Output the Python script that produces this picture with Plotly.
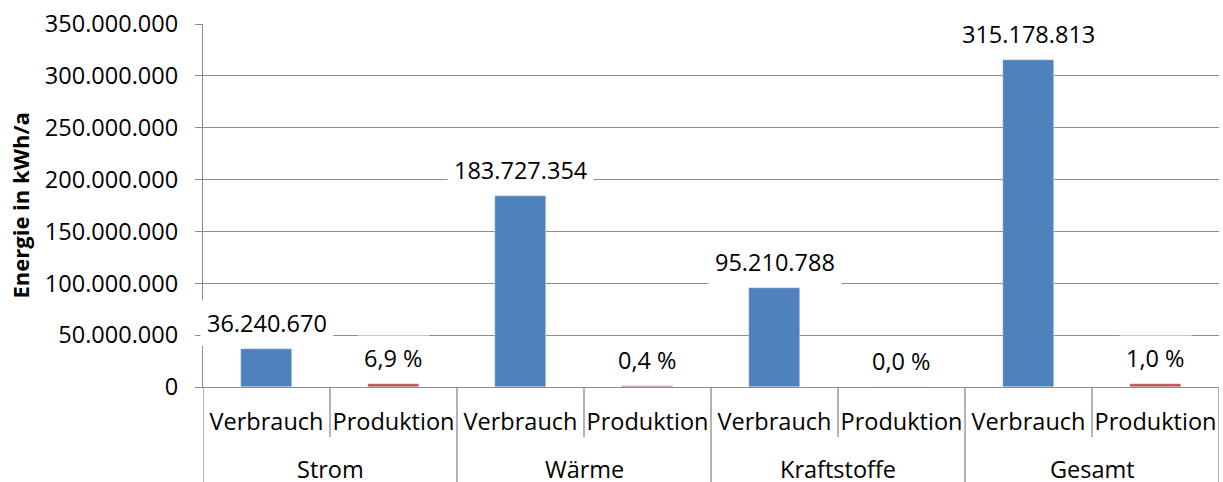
import plotly.graph_objects as go

groups = ["Strom", "Wärme", "Kraftstoffe", "Gesamt"]
inner = ["Verbrauch", "Produktion"]
verbrauch = [36240670, 183727354, 95210788, 315178813]
produktion = [2500000, 730000, 0, 3150000]
prod_labels = ["6,9 %", "0,4 %", "0,0 %", "1,0 %"]
y_ticks = [0, 50e6, 100e6, 150e6, 200e6, 250e6, 300e6, 350e6]

FONT = "Open Sans"
FS = 23.5
BLUE = "#4F81BD"
RED = "#C0504D"
GRID = "#8C8C8C"

xv = [2 * i for i in range(len(groups))]
xp = [2 * i + 1 for i in range(len(groups))]

fig = go.Figure()
fig.add_bar(x=xv, y=verbrauch, marker_color=BLUE, width=0.4, showlegend=False)
fig.add_bar(x=xp, y=produktion, marker_color=RED, width=0.4, showlegend=False)

def fmt(v):
    return f"{v:,}".replace(",", ".")

for x, v in zip(xv, verbrauch):
    fig.add_annotation(x=x, y=v, text=fmt(v), showarrow=False, yshift=26,
                       bgcolor="white", borderpad=6, font=dict(family=FONT, size=FS, color="black"))
for x, v, t in zip(xp, produktion, prod_labels):
    fig.add_annotation(x=x, y=v, text=t, showarrow=False, yshift=26,
                       bgcolor="white", borderpad=6, font=dict(family=FONT, size=FS, color="black"))

plot_w = 1223 - 203 - 4
plot_h = 482 - 24 - 95
# group labels
for i, g in enumerate(groups):
    fig.add_annotation(x=2 * i + 0.5, y=-(469 - 387) / plot_h, yref="paper", yanchor="middle",
                       text=g, showarrow=False, font=dict(family=FONT, size=FS, color="black"))

# y-axis title
fig.add_annotation(x=-(203 - 19) / plot_w, y=0.5, xref="paper", yref="paper",
                   xanchor="center", yanchor="middle", textangle=-90, showarrow=False,
                   text="<b>Energie in kWh/a</b>", font=dict(family=FONT, size=22, color="black"))

# separators
n = 2 * len(groups)
for k in range(n + 1):
    xb = k - 0.5
    if k % 2 == 0:
        y1 = -0.4
    else:
        y1 = -(437 - 387) / plot_h
    fig.add_shape(type="line", xref="x", yref="paper", x0=xb, x1=xb, y0=0, y1=y1,
                  line=dict(color=GRID, width=1.3))

fig.update_layout(
    width=1223, height=482,
    margin=dict(l=203, r=4, t=24, b=95, autoexpand=False),
    plot_bgcolor="white", paper_bgcolor="white",
    separators=",.",
    bargap=0, barmode="overlay",
    font=dict(family=FONT, size=FS, color="black"),
)
fig.update_xaxes(
    range=[-0.5, n - 0.5], tickmode="array", tickvals=list(range(n)),
    ticktext=inner * len(groups), ticks="", showgrid=False, automargin=False,
    showline=True, linecolor=GRID, linewidth=1.3, ticklabelstandoff=14,
    tickfont=dict(family=FONT, size=FS, color="black"), zeroline=False,
)
fig.update_yaxes(
    range=[0, 350e6], tickmode="array", tickvals=y_ticks, tickformat=",d", automargin=False,
    showgrid=True, gridcolor=GRID, gridwidth=1, showline=True, linecolor=GRID, linewidth=1.3,
    ticks="outside", ticklen=7, tickcolor=GRID, ticklabelstandoff=12,
    tickfont=dict(family=FONT, size=FS, color="black"), zeroline=False,
)

fig.write_html("out.html", config={"displayModeBar": False},
               post_script="document.body.style.margin='0';")
